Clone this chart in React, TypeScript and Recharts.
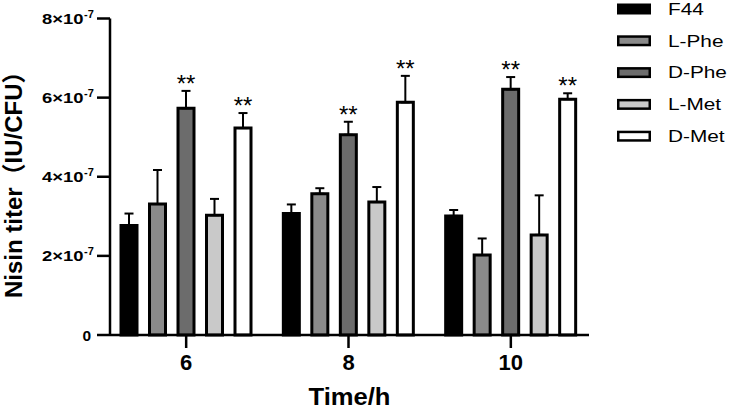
import React from 'react';
import { BarChart, Bar, XAxis, YAxis, ErrorBar, LabelList, Legend } from 'recharts';

const categories = ['6', '8', '10'];
const seriesNames = ['F44', 'L-Phe', 'D-Phe', 'L-Met', 'D-Met'];
const seriesColors = ['#000000', '#8a8a8a', '#6c6c6c', '#c9c9c9', '#ffffff'];
const f44 = [2.77e-7, 3.07e-7, 3.01e-7];
const f44Err = [0.3e-7, 0.23e-7, 0.15e-7];
const lPhe = [3.31e-7, 3.57e-7, 2.02e-7];
const lPheErr = [0.86e-7, 0.14e-7, 0.42e-7];
const dPhe = [5.73e-7, 5.06e-7, 6.21e-7];
const dPheErr = [0.44e-7, 0.33e-7, 0.31e-7];
const lMet = [3.03e-7, 3.36e-7, 2.53e-7];
const lMetErr = [0.41e-7, 0.38e-7, 1.0e-7];
const dMet = [5.23e-7, 5.88e-7, 5.96e-7];
const dMetErr = [0.38e-7, 0.67e-7, 0.15e-7];
const dPheMarks = ['**', '**', '**'];
const dMetMarks = ['**', '**', '**'];
const yTicks = [0, 2e-7, 4e-7, 6e-7, 8e-7];
const yTickMantissa = ['0', '2', '4', '6', '8'];
const yTickExponent = '-7';
const yLabel = 'Nisin titer（IU/CFU）';
const xLabel = 'Time/h';

const FONT = "'Liberation Sans', Arial, 'Noto Sans CJK SC', sans-serif";

const seriesVals = [f44, lPhe, dPhe, lMet, dMet];
const seriesErrs = [f44Err, lPheErr, dPheErr, lMetErr, dMetErr];
const keys = ['F44', 'LPhe', 'DPhe', 'LMet', 'DMet'];

const data = categories.map((c, i) => {
  const row: any = { time: c };
  keys.forEach((k, s) => {
    row[k] = seriesVals[s][i];
    row[k + 'Err'] = [0, seriesErrs[s][i]];
  });
  return row;
});

const makeStars = (vals: number[], errs: number[], marks: string[]) => (props: any) => {
  const vb = props.viewBox || props;
  const x = vb.x ?? props.x;
  const y = vb.y ?? props.y;
  const w = vb.width ?? props.width;
  const h = vb.height ?? props.height;
  const index = props.index;
  if (index === undefined || index === null) return null;
  const v = vals[index];
  const e = errs[index];
  const pxPerUnit = Math.abs(h) / v;
  const top = Math.min(y, y + h);
  const capY = top - e * pxPerUnit;
  return (
    <text x={x + w / 2} y={capY + 1} textAnchor="middle" fontSize={24} fontFamily={FONT} fill="#000">
      {marks[index]}
    </text>
  );
};

const YTick = (props: any) => {
  const { x, y, payload, index } = props;
  const i = yTicks.indexOf(payload.value);
  const m = yTickMantissa[i >= 0 ? i : index];
  if (payload.value === 0) {
    return (
      <text x={x - 4} y={y + 5.5} textAnchor="end" fontSize={15.5} fontWeight="bold" fontFamily={FONT} fill="#000">
        {m}
      </text>
    );
  }
  return (
    <g>
      <text x={x - 11.5} y={y + 5} textAnchor="end" fontSize={15.5} fontWeight="bold" fontFamily={FONT} fill="#000"
        textLength={41.5} lengthAdjust="spacingAndGlyphs">
        {m + '×10'}
      </text>
      <text x={x - 11} y={y - 0.5} textAnchor="start" fontSize={11} fontWeight="bold" fontFamily={FONT} fill="#000">
        {yTickExponent}
      </text>
    </g>
  );
};

const XTick = (props: any) => {
  const { x, y, payload } = props;
  return (
    <text x={x} y={y + 20} textAnchor="middle" fontSize={22} fontWeight="bold" fontFamily={FONT} fill="#000">
      {payload.value}
    </text>
  );
};

const renderLegend = () => (
  <svg width={121} height={150} style={{ display: 'block' }}>
    {seriesNames.map((n, i) => {
      const cy = 9 + i * 31.8;
      return (
        <g key={n}>
          <rect x={6.25} y={cy - 4.25} width={31.5} height={8.5} fill={seriesColors[i]} stroke="#000" strokeWidth={2.5} />
          <text transform={`translate(56, ${cy + 5.8}) scale(1.3, 1)`} x={0} y={0} fontSize={16} fontFamily={FONT} fill="#000">
            {n}
          </text>
        </g>
      );
    })}
  </svg>
);

const YLabel = (props: any) => {
  const vb = props.viewBox || { x: 0, y: 18.5, width: 110, height: 316.5 };
  const cy = vb.y + vb.height / 2 + 2;
  return (
    <text x={22} y={cy} transform={`rotate(-90, 22, ${cy})`} textAnchor="middle" fontSize={24} fontWeight="bold" fontFamily={FONT} fill="#000">
      {yLabel}
    </text>
  );
};

const XLabel = (props: any) => {
  const vb = props.viewBox || { x: 110, y: 335, width: 479, height: 74 };
  const cx = vb.x + vb.width / 2;
  return (
    <text x={cx} y={vb.y + 69.5} textAnchor="middle" fontSize={24} fontWeight="bold" fontFamily={FONT} fill="#000"
      textLength={82} lengthAdjust="spacingAndGlyphs">
      {xLabel}
    </text>
  );
};

export default function App() {
  return (
    <div style={{ position: 'absolute', left: 0, top: 0, width: 733, height: 409, background: '#fff' }}>
      <BarChart
        width={733}
        height={409}
        data={data}
        margin={{ top: 18.5, right: 144, left: 0, bottom: 0 }}
        barCategoryGap={16}
        barGap={12.5}
      >
        <XAxis
          dataKey="time"
          height={74}
          tickSize={13}
          tickMargin={2}
          padding={{ left: -5, right: -3 }}
          axisLine={{ stroke: '#000', strokeWidth: 2.5 }}
          tickLine={{ stroke: '#000', strokeWidth: 2.5 }}
          tick={<XTick />}
          interval={0}
          label={(p: any) => <XLabel {...p} />}
        />
        <YAxis
          width={110}
          domain={[0, 8e-7]}
          ticks={yTicks}
          tickSize={13}
          tickMargin={2}
          axisLine={{ stroke: '#000', strokeWidth: 2.5 }}
          tickLine={{ stroke: '#000', strokeWidth: 2.5 }}
          tick={<YTick />}
          interval={0}
          label={(p: any) => <YLabel {...p} />}
        />
        <Legend
          layout="vertical"
          align="center"
          verticalAlign="middle"
          content={renderLegend}
          wrapperStyle={{ position: 'absolute', left: 612, top: 0, width: 121, height: 150 }}
        />
        {keys.map((k, s) => (
          <Bar key={k} dataKey={k} name={seriesNames[s]} fill={seriesColors[s]} stroke="#000" strokeWidth={3} isAnimationActive={false}>
            <ErrorBar dataKey={k + 'Err'} direction="y" width={4.5} stroke="#000" strokeWidth={2} />
            {k === 'DPhe' && (
              <LabelList dataKey={k} content={makeStars(dPhe, dPheErr, dPheMarks)} />
            )}
            {k === 'DMet' && (
              <LabelList dataKey={k} content={makeStars(dMet, dMetErr, dMetMarks)} />
            )}
          </Bar>
        ))}
      </BarChart>
    </div>
  );
}
